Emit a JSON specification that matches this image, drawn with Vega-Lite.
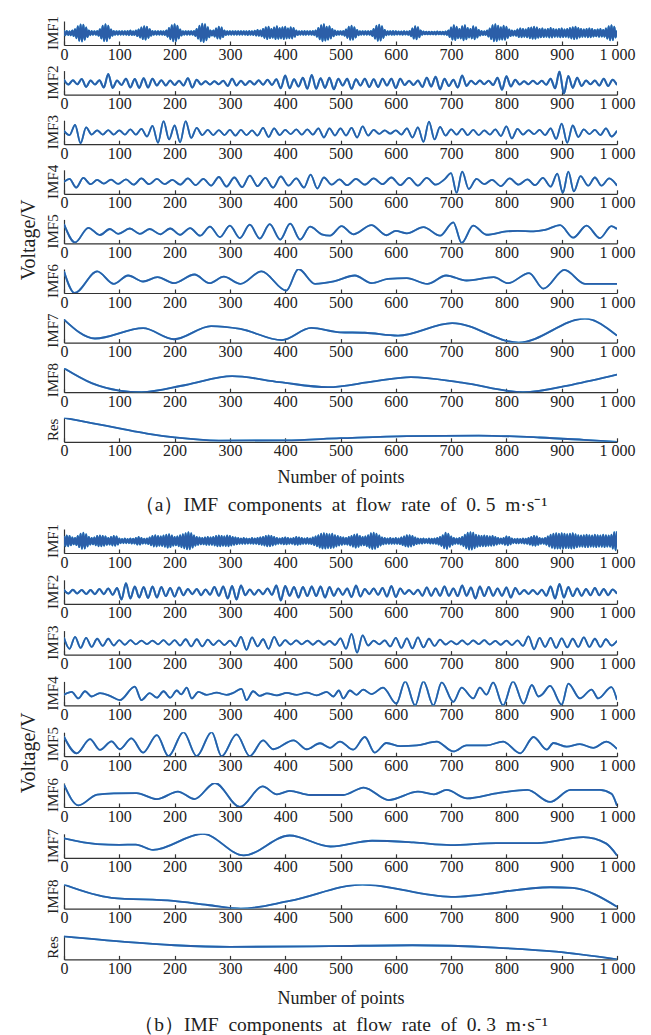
{
"$schema": "https://vega.github.io/schema/vega-lite/v6.json",
"background": "white",
"padding": {"left": 18, "top": 15, "right": 4, "bottom": 4},
"config": {"view": {"stroke": null}, "font": "Liberation Serif"},
"spacing": 8,
"datasets": {
"a": [
{"c":1,"x":0,"y":1.0},{"c":1,"x":2.5,"y":-0.9},{"c":1,"x":5,"y":0.8},{"c":1,"x":7.5,"y":-0.8},{"c":1,"x":10,"y":0.7},{"c":1,"x":12.5,"y":-0.9},{"c":1,"x":15,"y":1.0},{"c":1,"x":17.5,"y":-1.2},{"c":1,"x":20,"y":1.5},{"c":1,"x":22.5,"y":-2.1},
{"c":1,"x":25,"y":2.8},{"c":1,"x":27.5,"y":-3.2},{"c":1,"x":30,"y":3.5},{"c":1,"x":32.5,"y":-3.5},{"c":1,"x":35,"y":3.4},{"c":1,"x":37.5,"y":-2.8},{"c":1,"x":40,"y":2.2},{"c":1,"x":42.5,"y":-1.6},{"c":1,"x":45,"y":1.0},{"c":1,"x":47.5,"y":-0.9},
{"c":1,"x":50,"y":0.8},{"c":1,"x":52.5,"y":-0.7},{"c":1,"x":55,"y":0.7},{"c":1,"x":57.5,"y":-0.7},{"c":1,"x":60,"y":0.8},{"c":1,"x":62.5,"y":-1.1},{"c":1,"x":65,"y":1.5},{"c":1,"x":67.5,"y":-2.2},{"c":1,"x":70,"y":3.0},{"c":1,"x":72.5,"y":-3.3},
{"c":1,"x":75,"y":3.6},{"c":1,"x":77.5,"y":-3.3},{"c":1,"x":80,"y":3.0},{"c":1,"x":82.5,"y":-2.2},{"c":1,"x":85,"y":1.4},{"c":1,"x":87.5,"y":-1.1},{"c":1,"x":90,"y":0.8},{"c":1,"x":92.5,"y":-0.7},{"c":1,"x":95,"y":0.7},{"c":1,"x":97.5,"y":-0.7},
{"c":1,"x":100,"y":0.7},{"c":1,"x":102.5,"y":-0.7},{"c":1,"x":105,"y":0.7},{"c":1,"x":107.5,"y":-0.7},{"c":1,"x":110,"y":0.7},{"c":1,"x":112.5,"y":-0.7},{"c":1,"x":115,"y":0.8},{"c":1,"x":117.5,"y":-0.9},{"c":1,"x":120,"y":1.0},{"c":1,"x":122.5,"y":-0.8},
{"c":1,"x":125,"y":0.7},{"c":1,"x":127.5,"y":-0.8},{"c":1,"x":130,"y":1.0},{"c":1,"x":132.5,"y":-1.2},{"c":1,"x":135,"y":1.4},{"c":1,"x":137.5,"y":-1.8},{"c":1,"x":140,"y":2.2},{"c":1,"x":142.5,"y":-2.5},{"c":1,"x":145,"y":2.8},{"c":1,"x":147.5,"y":-2.7},
{"c":1,"x":150,"y":2.6},{"c":1,"x":152.5,"y":-2.0},{"c":1,"x":155,"y":1.5},{"c":1,"x":157.5,"y":-1.1},{"c":1,"x":160,"y":0.8},{"c":1,"x":162.5,"y":-0.7},{"c":1,"x":165,"y":0.7},{"c":1,"x":167.5,"y":-0.7},{"c":1,"x":170,"y":0.7},{"c":1,"x":172.5,"y":-0.7},
{"c":1,"x":175,"y":0.7},{"c":1,"x":177.5,"y":-0.7},{"c":1,"x":180,"y":0.7},{"c":1,"x":182.5,"y":-0.8},{"c":1,"x":185,"y":1.0},{"c":1,"x":187.5,"y":-1.5},{"c":1,"x":190,"y":2.0},{"c":1,"x":192.5,"y":-2.6},{"c":1,"x":195,"y":3.2},{"c":1,"x":197.5,"y":-3.4},
{"c":1,"x":200,"y":3.6},{"c":1,"x":202.5,"y":-3.3},{"c":1,"x":205,"y":3.0},{"c":1,"x":207.5,"y":-2.2},{"c":1,"x":210,"y":1.4},{"c":1,"x":212.5,"y":-1.0},{"c":1,"x":215,"y":0.7},{"c":1,"x":217.5,"y":-0.7},{"c":1,"x":220,"y":0.7},{"c":1,"x":222.5,"y":-0.7},
{"c":1,"x":225,"y":0.7},{"c":1,"x":227.5,"y":-0.7},{"c":1,"x":230,"y":0.7},{"c":1,"x":232.5,"y":-0.7},{"c":1,"x":235,"y":0.8},{"c":1,"x":237.5,"y":-1.2},{"c":1,"x":240,"y":1.6},{"c":1,"x":242.5,"y":-2.3},{"c":1,"x":245,"y":3.0},{"c":1,"x":247.5,"y":-3.4},
{"c":1,"x":250,"y":3.8},{"c":1,"x":252.5,"y":-3.7},{"c":1,"x":255,"y":3.6},{"c":1,"x":257.5,"y":-3.0},{"c":1,"x":260,"y":2.4},{"c":1,"x":262.5,"y":-1.7},{"c":1,"x":265,"y":1.0},{"c":1,"x":267.5,"y":-1.0},{"c":1,"x":270,"y":1.0},{"c":1,"x":272.5,"y":-1.4},
{"c":1,"x":275,"y":1.8},{"c":1,"x":277.5,"y":-2.2},{"c":1,"x":280,"y":2.6},{"c":1,"x":282.5,"y":-2.4},{"c":1,"x":285,"y":2.2},{"c":1,"x":287.5,"y":-1.6},{"c":1,"x":290,"y":1.0},{"c":1,"x":292.5,"y":-0.8},{"c":1,"x":295,"y":0.7},{"c":1,"x":297.5,"y":-0.7},
{"c":1,"x":300,"y":0.7},{"c":1,"x":302.5,"y":-0.7},{"c":1,"x":305,"y":0.7},{"c":1,"x":307.5,"y":-0.7},{"c":1,"x":310,"y":0.7},{"c":1,"x":312.5,"y":-0.7},{"c":1,"x":315,"y":0.7},{"c":1,"x":317.5,"y":-0.7},{"c":1,"x":320,"y":0.7},{"c":1,"x":322.5,"y":-0.7},
{"c":1,"x":325,"y":0.7},{"c":1,"x":327.5,"y":-0.7},{"c":1,"x":330,"y":0.7},{"c":1,"x":332.5,"y":-0.8},{"c":1,"x":335,"y":0.8},{"c":1,"x":337.5,"y":-0.7},{"c":1,"x":340,"y":0.7},{"c":1,"x":342.5,"y":-0.8},{"c":1,"x":345,"y":0.9},{"c":1,"x":347.5,"y":-1.0},
{"c":1,"x":350,"y":1.2},{"c":1,"x":352.5,"y":-1.1},{"c":1,"x":355,"y":1.0},{"c":1,"x":357.5,"y":-1.3},{"c":1,"x":360,"y":1.6},{"c":1,"x":362.5,"y":-2.0},{"c":1,"x":365,"y":2.4},{"c":1,"x":367.5,"y":-2.5},{"c":1,"x":370,"y":2.6},{"c":1,"x":372.5,"y":-2.1},
{"c":1,"x":375,"y":1.6},{"c":1,"x":377.5,"y":-1.9},{"c":1,"x":380,"y":2.2},{"c":1,"x":382.5,"y":-2.5},{"c":1,"x":385,"y":2.8},{"c":1,"x":387.5,"y":-2.4},{"c":1,"x":390,"y":2.0},{"c":1,"x":392.5,"y":-2.2},{"c":1,"x":395,"y":2.4},{"c":1,"x":397.5,"y":-2.5},
{"c":1,"x":400,"y":2.6},{"c":1,"x":402.5,"y":-2.2},{"c":1,"x":405,"y":1.8},{"c":1,"x":407.5,"y":-2.1},{"c":1,"x":410,"y":2.4},{"c":1,"x":412.5,"y":-2.2},{"c":1,"x":415,"y":2.0},{"c":1,"x":417.5,"y":-1.5},{"c":1,"x":420,"y":1.0},{"c":1,"x":422.5,"y":-0.8},
{"c":1,"x":425,"y":0.7},{"c":1,"x":427.5,"y":-0.7},{"c":1,"x":430,"y":0.7},{"c":1,"x":432.5,"y":-0.7},{"c":1,"x":435,"y":0.8},{"c":1,"x":437.5,"y":-0.7},{"c":1,"x":440,"y":0.7},{"c":1,"x":442.5,"y":-0.7},{"c":1,"x":445,"y":0.7},{"c":1,"x":447.5,"y":-0.7},
{"c":1,"x":450,"y":0.8},{"c":1,"x":452.5,"y":-0.9},{"c":1,"x":455,"y":1.0},{"c":1,"x":457.5,"y":-1.5},{"c":1,"x":460,"y":2.0},{"c":1,"x":462.5,"y":-2.6},{"c":1,"x":465,"y":3.2},{"c":1,"x":467.5,"y":-3.4},{"c":1,"x":470,"y":3.6},{"c":1,"x":472.5,"y":-3.1},
{"c":1,"x":475,"y":2.6},{"c":1,"x":477.5,"y":-2.7},{"c":1,"x":480,"y":2.8},{"c":1,"x":482.5,"y":-2.2},{"c":1,"x":485,"y":1.6},{"c":1,"x":487.5,"y":-1.3},{"c":1,"x":490,"y":1.0},{"c":1,"x":492.5,"y":-0.8},{"c":1,"x":495,"y":0.7},{"c":1,"x":497.5,"y":-0.7},
{"c":1,"x":500,"y":0.7},{"c":1,"x":502.5,"y":-0.7},{"c":1,"x":505,"y":0.8},{"c":1,"x":507.5,"y":-1.1},{"c":1,"x":510,"y":1.4},{"c":1,"x":512.5,"y":-2.0},{"c":1,"x":515,"y":2.6},{"c":1,"x":517.5,"y":-2.8},{"c":1,"x":520,"y":3.0},{"c":1,"x":522.5,"y":-2.7},
{"c":1,"x":525,"y":2.4},{"c":1,"x":527.5,"y":-1.8},{"c":1,"x":530,"y":1.2},{"c":1,"x":532.5,"y":-0.9},{"c":1,"x":535,"y":0.7},{"c":1,"x":537.5,"y":-0.7},{"c":1,"x":540,"y":0.7},{"c":1,"x":542.5,"y":-0.7},{"c":1,"x":545,"y":0.7},{"c":1,"x":547.5,"y":-0.7},
{"c":1,"x":550,"y":0.7},{"c":1,"x":552.5,"y":-0.7},{"c":1,"x":555,"y":0.8},{"c":1,"x":557.5,"y":-1.2},{"c":1,"x":560,"y":1.6},{"c":1,"x":562.5,"y":-2.3},{"c":1,"x":565,"y":3.0},{"c":1,"x":567.5,"y":-3.2},{"c":1,"x":570,"y":3.4},{"c":1,"x":572.5,"y":-3.1},
{"c":1,"x":575,"y":2.8},{"c":1,"x":577.5,"y":-2.0},{"c":1,"x":580,"y":1.2},{"c":1,"x":582.5,"y":-0.9},{"c":1,"x":585,"y":0.7},{"c":1,"x":587.5,"y":-0.7},{"c":1,"x":590,"y":0.7},{"c":1,"x":592.5,"y":-0.7},{"c":1,"x":595,"y":0.8},{"c":1,"x":597.5,"y":-0.7},
{"c":1,"x":600,"y":0.7},{"c":1,"x":602.5,"y":-0.6},{"c":1,"x":605,"y":0.6},{"c":1,"x":607.5,"y":-0.6},{"c":1,"x":610,"y":0.6},{"c":1,"x":612.5,"y":-0.7},{"c":1,"x":615,"y":0.7},{"c":1,"x":617.5,"y":-0.6},{"c":1,"x":620,"y":0.6},{"c":1,"x":622.5,"y":-0.7},
{"c":1,"x":625,"y":0.8},{"c":1,"x":627.5,"y":-1.3},{"c":1,"x":630,"y":1.8},{"c":1,"x":632.5,"y":-2.3},{"c":1,"x":635,"y":2.8},{"c":1,"x":637.5,"y":-2.6},{"c":1,"x":640,"y":2.4},{"c":1,"x":642.5,"y":-1.7},{"c":1,"x":645,"y":1.0},{"c":1,"x":647.5,"y":-0.7},
{"c":1,"x":650,"y":0.6},{"c":1,"x":652.5,"y":-0.5},{"c":1,"x":655,"y":0.5},{"c":1,"x":657.5,"y":-0.5},{"c":1,"x":660,"y":0.5},{"c":1,"x":662.5,"y":-0.5},{"c":1,"x":665,"y":0.5},{"c":1,"x":667.5,"y":-0.5},{"c":1,"x":670,"y":0.5},{"c":1,"x":672.5,"y":-0.6},
{"c":1,"x":675,"y":0.6},{"c":1,"x":677.5,"y":-0.5},{"c":1,"x":680,"y":0.5},{"c":1,"x":682.5,"y":-0.5},{"c":1,"x":685,"y":0.5},{"c":1,"x":687.5,"y":-0.6},{"c":1,"x":690,"y":0.6},{"c":1,"x":692.5,"y":-0.8},{"c":1,"x":695,"y":1.0},{"c":1,"x":697.5,"y":-1.6},
{"c":1,"x":700,"y":2.2},{"c":1,"x":702.5,"y":-2.7},{"c":1,"x":705,"y":3.2},{"c":1,"x":707.5,"y":-2.9},{"c":1,"x":710,"y":2.6},{"c":1,"x":712.5,"y":-2.1},{"c":1,"x":715,"y":1.6},{"c":1,"x":717.5,"y":-2.2},{"c":1,"x":720,"y":2.8},{"c":1,"x":722.5,"y":-3.0},
{"c":1,"x":725,"y":3.2},{"c":1,"x":727.5,"y":-2.6},{"c":1,"x":730,"y":2.0},{"c":1,"x":732.5,"y":-1.8},{"c":1,"x":735,"y":1.6},{"c":1,"x":737.5,"y":-2.2},{"c":1,"x":740,"y":2.8},{"c":1,"x":742.5,"y":-2.6},{"c":1,"x":745,"y":2.4},{"c":1,"x":747.5,"y":-1.8},
{"c":1,"x":750,"y":1.2},{"c":1,"x":752.5,"y":-1.0},{"c":1,"x":755,"y":0.8},{"c":1,"x":757.5,"y":-0.8},{"c":1,"x":760,"y":0.7},{"c":1,"x":762.5,"y":-0.8},{"c":1,"x":765,"y":1.0},{"c":1,"x":767.5,"y":-1.4},{"c":1,"x":770,"y":1.8},{"c":1,"x":772.5,"y":-2.5},
{"c":1,"x":775,"y":3.2},{"c":1,"x":777.5,"y":-3.4},{"c":1,"x":780,"y":3.6},{"c":1,"x":782.5,"y":-3.3},{"c":1,"x":785,"y":3.0},{"c":1,"x":787.5,"y":-2.7},{"c":1,"x":790,"y":2.4},{"c":1,"x":792.5,"y":-2.7},{"c":1,"x":795,"y":3.0},{"c":1,"x":797.5,"y":-2.8},
{"c":1,"x":800,"y":2.6},{"c":1,"x":802.5,"y":-2.0},{"c":1,"x":805,"y":1.4},{"c":1,"x":807.5,"y":-1.2},{"c":1,"x":810,"y":1.0},{"c":1,"x":812.5,"y":-1.0},{"c":1,"x":815,"y":0.9},{"c":1,"x":817.5,"y":-1.1},{"c":1,"x":820,"y":1.4},{"c":1,"x":822.5,"y":-1.6},
{"c":1,"x":825,"y":1.8},{"c":1,"x":827.5,"y":-1.7},{"c":1,"x":830,"y":1.6},{"c":1,"x":832.5,"y":-1.5},{"c":1,"x":835,"y":1.4},{"c":1,"x":837.5,"y":-1.7},{"c":1,"x":840,"y":2.0},{"c":1,"x":842.5,"y":-2.1},{"c":1,"x":845,"y":2.2},{"c":1,"x":847.5,"y":-2.4},
{"c":1,"x":850,"y":2.6},{"c":1,"x":852.5,"y":-2.4},{"c":1,"x":855,"y":2.2},{"c":1,"x":857.5,"y":-1.9},{"c":1,"x":860,"y":1.6},{"c":1,"x":862.5,"y":-1.7},{"c":1,"x":865,"y":1.8},{"c":1,"x":867.5,"y":-1.6},{"c":1,"x":870,"y":1.4},{"c":1,"x":872.5,"y":-1.5},
{"c":1,"x":875,"y":1.6},{"c":1,"x":877.5,"y":-1.8},{"c":1,"x":880,"y":2.0},{"c":1,"x":882.5,"y":-1.8},{"c":1,"x":885,"y":1.6},{"c":1,"x":887.5,"y":-1.5},{"c":1,"x":890,"y":1.4},{"c":1,"x":892.5,"y":-1.5},{"c":1,"x":895,"y":1.6},{"c":1,"x":897.5,"y":-1.7},
{"c":1,"x":900,"y":1.8},{"c":1,"x":902.5,"y":-1.6},{"c":1,"x":905,"y":1.4},{"c":1,"x":907.5,"y":-1.5},{"c":1,"x":910,"y":1.6},{"c":1,"x":912.5,"y":-1.8},{"c":1,"x":915,"y":2.0},{"c":1,"x":917.5,"y":-2.2},{"c":1,"x":920,"y":2.4},{"c":1,"x":922.5,"y":-2.5},
{"c":1,"x":925,"y":2.6},{"c":1,"x":927.5,"y":-2.3},{"c":1,"x":930,"y":2.0},{"c":1,"x":932.5,"y":-1.8},{"c":1,"x":935,"y":1.6},{"c":1,"x":937.5,"y":-1.5},{"c":1,"x":940,"y":1.4},{"c":1,"x":942.5,"y":-1.5},{"c":1,"x":945,"y":1.6},{"c":1,"x":947.5,"y":-1.7},
{"c":1,"x":950,"y":1.8},{"c":1,"x":952.5,"y":-1.7},{"c":1,"x":955,"y":1.6},{"c":1,"x":957.5,"y":-1.4},{"c":1,"x":960,"y":1.2},{"c":1,"x":962.5,"y":-1.3},{"c":1,"x":965,"y":1.4},{"c":1,"x":967.5,"y":-1.5},{"c":1,"x":970,"y":1.6},{"c":1,"x":972.5,"y":-1.4},
{"c":1,"x":975,"y":1.2},{"c":1,"x":977.5,"y":-1.5},{"c":1,"x":980,"y":1.8},{"c":1,"x":982.5,"y":-2.3},{"c":1,"x":985,"y":2.8},{"c":1,"x":987.5,"y":-3.0},{"c":1,"x":990,"y":3.2},{"c":1,"x":992.5,"y":-2.9},{"c":1,"x":995,"y":2.6},{"c":1,"x":997.5,"y":-1.8},
{"c":1,"x":1000,"y":1.0},
{"c":2,"x":0,"y":1.2},{"c":2,"x":8,"y":-0.8},{"c":2,"x":16,"y":1.0},{"c":2,"x":24,"y":-0.7},{"c":2,"x":32,"y":1.5},{"c":2,"x":40,"y":-1.8},{"c":2,"x":48,"y":0.9},{"c":2,"x":56,"y":-0.8},{"c":2,"x":64,"y":1.0},{"c":2,"x":72,"y":-2.0},
{"c":2,"x":80,"y":3.6},{"c":2,"x":88,"y":-2.2},{"c":2,"x":96,"y":0.9},{"c":2,"x":104,"y":-1.0},{"c":2,"x":112,"y":1.6},{"c":2,"x":120,"y":-2.0},{"c":2,"x":128,"y":1.5},{"c":2,"x":136,"y":-2.2},{"c":2,"x":144,"y":1.8},{"c":2,"x":152,"y":-2.0},
{"c":2,"x":160,"y":1.6},{"c":2,"x":168,"y":-1.2},{"c":2,"x":176,"y":1.0},{"c":2,"x":184,"y":-1.2},{"c":2,"x":192,"y":0.9},{"c":2,"x":200,"y":-1.0},{"c":2,"x":208,"y":0.8},{"c":2,"x":216,"y":-1.2},{"c":2,"x":224,"y":1.8},{"c":2,"x":232,"y":-2.0},
{"c":2,"x":240,"y":1.2},{"c":2,"x":248,"y":-0.8},{"c":2,"x":256,"y":0.6},{"c":2,"x":264,"y":-0.8},{"c":2,"x":272,"y":0.6},{"c":2,"x":280,"y":-0.7},{"c":2,"x":288,"y":0.8},{"c":2,"x":296,"y":-1.4},{"c":2,"x":304,"y":1.6},{"c":2,"x":312,"y":-1.2},
{"c":2,"x":320,"y":0.8},{"c":2,"x":328,"y":-1.0},{"c":2,"x":336,"y":0.7},{"c":2,"x":344,"y":-0.8},{"c":2,"x":352,"y":1.0},{"c":2,"x":360,"y":-0.9},{"c":2,"x":368,"y":1.2},{"c":2,"x":376,"y":-1.0},{"c":2,"x":384,"y":1.4},{"c":2,"x":392,"y":-2.4},
{"c":2,"x":400,"y":3.0},{"c":2,"x":408,"y":-2.4},{"c":2,"x":416,"y":1.4},{"c":2,"x":424,"y":-1.6},{"c":2,"x":432,"y":2.0},{"c":2,"x":440,"y":-2.6},{"c":2,"x":448,"y":3.2},{"c":2,"x":456,"y":-2.6},{"c":2,"x":464,"y":1.8},{"c":2,"x":472,"y":-2.2},
{"c":2,"x":480,"y":2.0},{"c":2,"x":488,"y":-2.8},{"c":2,"x":496,"y":1.6},{"c":2,"x":504,"y":-1.2},{"c":2,"x":512,"y":1.6},{"c":2,"x":520,"y":-2.6},{"c":2,"x":528,"y":1.4},{"c":2,"x":536,"y":-1.2},{"c":2,"x":544,"y":1.6},{"c":2,"x":552,"y":-1.8},
{"c":2,"x":560,"y":1.4},{"c":2,"x":568,"y":-1.8},{"c":2,"x":576,"y":1.6},{"c":2,"x":584,"y":-1.2},{"c":2,"x":592,"y":1.6},{"c":2,"x":600,"y":-2.2},{"c":2,"x":608,"y":1.6},{"c":2,"x":616,"y":-1.0},{"c":2,"x":624,"y":0.8},{"c":2,"x":632,"y":-1.0},
{"c":2,"x":640,"y":0.9},{"c":2,"x":648,"y":-1.8},{"c":2,"x":656,"y":2.0},{"c":2,"x":664,"y":-1.6},{"c":2,"x":672,"y":2.4},{"c":2,"x":680,"y":-2.8},{"c":2,"x":688,"y":1.6},{"c":2,"x":696,"y":-1.4},{"c":2,"x":704,"y":1.2},{"c":2,"x":712,"y":-2.0},
{"c":2,"x":720,"y":3.0},{"c":2,"x":728,"y":-1.4},{"c":2,"x":736,"y":0.8},{"c":2,"x":744,"y":-0.7},{"c":2,"x":752,"y":0.9},{"c":2,"x":760,"y":-0.7},{"c":2,"x":768,"y":0.8},{"c":2,"x":776,"y":-1.0},{"c":2,"x":784,"y":2.0},{"c":2,"x":792,"y":-3.0},
{"c":2,"x":800,"y":2.6},{"c":2,"x":808,"y":-1.6},{"c":2,"x":816,"y":1.2},{"c":2,"x":824,"y":-0.8},{"c":2,"x":832,"y":0.6},{"c":2,"x":840,"y":-0.7},{"c":2,"x":848,"y":0.8},{"c":2,"x":856,"y":-0.6},{"c":2,"x":864,"y":0.8},{"c":2,"x":872,"y":-0.9},
{"c":2,"x":880,"y":1.6},{"c":2,"x":888,"y":-2.4},{"c":2,"x":896,"y":4.6},{"c":2,"x":904,"y":-4.6},{"c":2,"x":912,"y":2.8},{"c":2,"x":920,"y":-2.2},{"c":2,"x":928,"y":2.0},{"c":2,"x":936,"y":-1.4},{"c":2,"x":944,"y":0.9},{"c":2,"x":952,"y":-0.7},
{"c":2,"x":960,"y":0.9},{"c":2,"x":968,"y":-1.2},{"c":2,"x":976,"y":1.6},{"c":2,"x":984,"y":-1.4},{"c":2,"x":992,"y":1.2},{"c":2,"x":1000,"y":-1.0},
{"c":3,"x":0,"y":0.6},{"c":3,"x":10,"y":-1.2},{"c":3,"x":20,"y":3.0},{"c":3,"x":30,"y":-4.6},{"c":3,"x":40,"y":2.0},{"c":3,"x":50,"y":-1.0},{"c":3,"x":60,"y":0.8},{"c":3,"x":70,"y":-1.0},{"c":3,"x":80,"y":0.9},{"c":3,"x":90,"y":-1.0},
{"c":3,"x":100,"y":0.8},{"c":3,"x":110,"y":-1.0},{"c":3,"x":120,"y":1.2},{"c":3,"x":130,"y":-1.0},{"c":3,"x":140,"y":1.4},{"c":3,"x":150,"y":-1.8},{"c":3,"x":160,"y":2.6},{"c":3,"x":170,"y":-4.4},{"c":3,"x":180,"y":4.6},{"c":3,"x":190,"y":-3.0},
{"c":3,"x":200,"y":2.8},{"c":3,"x":210,"y":-4.2},{"c":3,"x":220,"y":4.6},{"c":3,"x":230,"y":-2.4},{"c":3,"x":240,"y":1.8},{"c":3,"x":250,"y":-1.2},{"c":3,"x":260,"y":1.0},{"c":3,"x":270,"y":-1.2},{"c":3,"x":280,"y":0.9},{"c":3,"x":290,"y":-1.2},
{"c":3,"x":300,"y":1.0},{"c":3,"x":310,"y":-1.4},{"c":3,"x":320,"y":1.0},{"c":3,"x":330,"y":-1.2},{"c":3,"x":340,"y":0.8},{"c":3,"x":350,"y":-1.4},{"c":3,"x":360,"y":1.8},{"c":3,"x":370,"y":-2.0},{"c":3,"x":380,"y":1.6},{"c":3,"x":390,"y":-1.2},
{"c":3,"x":400,"y":1.0},{"c":3,"x":410,"y":-0.8},{"c":3,"x":420,"y":1.2},{"c":3,"x":430,"y":-1.0},{"c":3,"x":440,"y":1.2},{"c":3,"x":450,"y":-1.0},{"c":3,"x":460,"y":1.6},{"c":3,"x":470,"y":-2.2},{"c":3,"x":480,"y":1.6},{"c":3,"x":490,"y":-1.4},
{"c":3,"x":500,"y":1.6},{"c":3,"x":510,"y":-1.4},{"c":3,"x":520,"y":1.8},{"c":3,"x":530,"y":-2.2},{"c":3,"x":540,"y":2.4},{"c":3,"x":550,"y":-1.4},{"c":3,"x":560,"y":1.0},{"c":3,"x":570,"y":-0.7},{"c":3,"x":580,"y":0.8},{"c":3,"x":590,"y":-0.6},
{"c":3,"x":600,"y":0.8},{"c":3,"x":610,"y":-1.0},{"c":3,"x":620,"y":1.6},{"c":3,"x":630,"y":-2.2},{"c":3,"x":640,"y":2.0},{"c":3,"x":650,"y":-4.0},{"c":3,"x":660,"y":4.4},{"c":3,"x":670,"y":-3.0},{"c":3,"x":680,"y":2.2},{"c":3,"x":690,"y":-1.4},
{"c":3,"x":700,"y":1.2},{"c":3,"x":710,"y":-1.0},{"c":3,"x":720,"y":1.4},{"c":3,"x":730,"y":-1.2},{"c":3,"x":740,"y":1.0},{"c":3,"x":750,"y":-1.2},{"c":3,"x":760,"y":0.8},{"c":3,"x":770,"y":-1.0},{"c":3,"x":780,"y":1.2},{"c":3,"x":790,"y":-1.6},
{"c":3,"x":800,"y":2.4},{"c":3,"x":810,"y":-2.6},{"c":3,"x":820,"y":1.4},{"c":3,"x":830,"y":-1.0},{"c":3,"x":840,"y":0.9},{"c":3,"x":850,"y":-0.8},{"c":3,"x":860,"y":1.0},{"c":3,"x":870,"y":-1.2},{"c":3,"x":880,"y":1.6},{"c":3,"x":890,"y":-2.8},
{"c":3,"x":900,"y":3.6},{"c":3,"x":910,"y":-4.4},{"c":3,"x":920,"y":2.8},{"c":3,"x":930,"y":-2.0},{"c":3,"x":940,"y":1.2},{"c":3,"x":950,"y":-0.8},{"c":3,"x":960,"y":1.0},{"c":3,"x":970,"y":-1.2},{"c":3,"x":980,"y":1.6},{"c":3,"x":990,"y":-1.8},
{"c":3,"x":1000,"y":0.6},
{"c":4,"x":0,"y":0.0},{"c":4,"x":10,"y":1.2},{"c":4,"x":22,"y":-2.4},{"c":4,"x":35,"y":1.6},{"c":4,"x":48,"y":-1.0},{"c":4,"x":60,"y":0.8},{"c":4,"x":72,"y":-0.8},{"c":4,"x":85,"y":0.9},{"c":4,"x":98,"y":-0.9},{"c":4,"x":112,"y":1.0},
{"c":4,"x":126,"y":-1.2},{"c":4,"x":140,"y":1.4},{"c":4,"x":154,"y":-1.0},{"c":4,"x":168,"y":1.2},{"c":4,"x":182,"y":-1.0},{"c":4,"x":196,"y":0.8},{"c":4,"x":210,"y":-1.2},{"c":4,"x":224,"y":1.4},{"c":4,"x":238,"y":-1.4},{"c":4,"x":252,"y":1.2},
{"c":4,"x":266,"y":-1.6},{"c":4,"x":280,"y":2.0},{"c":4,"x":294,"y":-2.0},{"c":4,"x":308,"y":1.8},{"c":4,"x":322,"y":-2.2},{"c":4,"x":336,"y":2.6},{"c":4,"x":350,"y":-1.8},{"c":4,"x":364,"y":1.6},{"c":4,"x":378,"y":-2.4},{"c":4,"x":392,"y":2.2},
{"c":4,"x":406,"y":-1.6},{"c":4,"x":420,"y":1.4},{"c":4,"x":434,"y":-2.4},{"c":4,"x":446,"y":3.0},{"c":4,"x":458,"y":-2.8},{"c":4,"x":470,"y":1.8},{"c":4,"x":484,"y":-1.2},{"c":4,"x":498,"y":1.0},{"c":4,"x":512,"y":-1.4},{"c":4,"x":528,"y":1.2},
{"c":4,"x":544,"y":-1.2},{"c":4,"x":560,"y":1.4},{"c":4,"x":576,"y":-1.0},{"c":4,"x":592,"y":1.8},{"c":4,"x":608,"y":-1.4},{"c":4,"x":624,"y":1.6},{"c":4,"x":640,"y":-1.6},{"c":4,"x":656,"y":1.6},{"c":4,"x":672,"y":-1.2},{"c":4,"x":688,"y":1.0},
{"c":4,"x":700,"y":3.6},{"c":4,"x":710,"y":-4.6},{"c":4,"x":720,"y":4.2},{"c":4,"x":732,"y":-3.0},{"c":4,"x":746,"y":1.2},{"c":4,"x":760,"y":-1.0},{"c":4,"x":774,"y":0.8},{"c":4,"x":790,"y":-1.8},{"c":4,"x":806,"y":1.4},{"c":4,"x":822,"y":-1.2},
{"c":4,"x":838,"y":1.0},{"c":4,"x":852,"y":-1.4},{"c":4,"x":866,"y":1.6},{"c":4,"x":880,"y":-2.0},{"c":4,"x":892,"y":3.4},{"c":4,"x":902,"y":-4.6},{"c":4,"x":912,"y":4.2},{"c":4,"x":922,"y":-4.0},{"c":4,"x":934,"y":2.4},{"c":4,"x":948,"y":-1.6},
{"c":4,"x":960,"y":1.8},{"c":4,"x":972,"y":-1.6},{"c":4,"x":986,"y":1.4},{"c":4,"x":1000,"y":-1.6},
{"c":5,"x":0,"y":3.0},{"c":5,"x":20,"y":-4.6},{"c":5,"x":44,"y":1.5},{"c":5,"x":65,"y":-1.5},{"c":5,"x":83,"y":1.0},{"c":5,"x":98,"y":-1.0},{"c":5,"x":119,"y":1.2},{"c":5,"x":137,"y":-1.0},{"c":5,"x":155,"y":1.0},{"c":5,"x":174,"y":-1.2},
{"c":5,"x":192,"y":1.2},{"c":5,"x":210,"y":-1.4},{"c":5,"x":228,"y":1.4},{"c":5,"x":246,"y":-1.8},{"c":5,"x":264,"y":2.0},{"c":5,"x":282,"y":-2.4},{"c":5,"x":300,"y":2.4},{"c":5,"x":318,"y":-2.8},{"c":5,"x":336,"y":2.8},{"c":5,"x":354,"y":-3.0},
{"c":5,"x":372,"y":3.0},{"c":5,"x":391,"y":-3.4},{"c":5,"x":409,"y":3.2},{"c":5,"x":427,"y":-3.4},{"c":5,"x":445,"y":2.0},{"c":5,"x":466,"y":-1.2},{"c":5,"x":481,"y":-1.8},{"c":5,"x":502,"y":2.2},{"c":5,"x":523,"y":-1.2},{"c":5,"x":556,"y":2.6},
{"c":5,"x":583,"y":-1.6},{"c":5,"x":600,"y":0.2},{"c":5,"x":620,"y":-0.8},{"c":5,"x":650,"y":1.8},{"c":5,"x":680,"y":-1.8},{"c":5,"x":704,"y":3.8},{"c":5,"x":719,"y":-4.8},{"c":5,"x":740,"y":2.4},{"c":5,"x":764,"y":-1.4},{"c":5,"x":800,"y":0.0},
{"c":5,"x":820,"y":0.2},{"c":5,"x":849,"y":0.0},{"c":5,"x":870,"y":0.6},{"c":5,"x":897,"y":2.6},{"c":5,"x":921,"y":-2.6},{"c":5,"x":945,"y":2.4},{"c":5,"x":969,"y":-2.8},{"c":5,"x":990,"y":2.2},{"c":5,"x":1000,"y":1.0},
{"c":6,"x":0,"y":4.0},{"c":6,"x":19,"y":-5.0},{"c":6,"x":60,"y":4.0},{"c":6,"x":90,"y":-1.2},{"c":6,"x":116,"y":2.3},{"c":6,"x":143,"y":-0.2},{"c":6,"x":169,"y":1.6},{"c":6,"x":199,"y":-0.9},{"c":6,"x":236,"y":2.7},{"c":6,"x":263,"y":-0.9},
{"c":6,"x":289,"y":1.8},{"c":6,"x":319,"y":-1.2},{"c":6,"x":357,"y":4.0},{"c":6,"x":402,"y":-4.0},{"c":6,"x":424,"y":5.0},{"c":6,"x":454,"y":-1.2},{"c":6,"x":488,"y":-0.2},{"c":6,"x":526,"y":2.3},{"c":6,"x":556,"y":-0.9},{"c":6,"x":586,"y":0.9},
{"c":6,"x":620,"y":1.2},{"c":6,"x":657,"y":-1.2},{"c":6,"x":691,"y":2.3},{"c":6,"x":728,"y":0.2},{"c":6,"x":777,"y":1.6},{"c":6,"x":803,"y":-0.9},{"c":6,"x":841,"y":3.3},{"c":6,"x":867,"y":-3.2},{"c":6,"x":905,"y":4.6},{"c":6,"x":942,"y":-1.2},
{"c":6,"x":1000,"y":-1.2},
{"c":7,"x":0,"y":4.6},{"c":7,"x":56,"y":-3.3},{"c":7,"x":143,"y":1.0},{"c":7,"x":199,"y":-3.6},{"c":7,"x":266,"y":1.9},{"c":7,"x":319,"y":0.7},{"c":7,"x":394,"y":-4.0},{"c":7,"x":447,"y":1.1},{"c":7,"x":499,"y":-0.7},{"c":7,"x":544,"y":-0.9},
{"c":7,"x":604,"y":-2.1},{"c":7,"x":702,"y":3.1},{"c":7,"x":822,"y":-5.0},{"c":7,"x":942,"y":5.0},{"c":7,"x":1000,"y":-2.1},
{"c":8,"x":0,"y":5.0},{"c":8,"x":50,"y":-1.2},{"c":8,"x":100,"y":-4.3},{"c":8,"x":140,"y":-5.0},{"c":8,"x":220,"y":-2.0},{"c":8,"x":304,"y":1.7},{"c":8,"x":390,"y":-0.8},{"c":8,"x":477,"y":-2.9},{"c":8,"x":560,"y":-0.5},{"c":8,"x":627,"y":1.3},
{"c":8,"x":720,"y":-1.0},{"c":8,"x":830,"y":-5.0},{"c":8,"x":920,"y":-1.8},{"c":8,"x":1000,"y":2.3},
{"c":9,"x":0,"y":5.0},{"c":9,"x":50,"y":2.8},{"c":9,"x":100,"y":0.6},{"c":9,"x":150,"y":-1.6},{"c":9,"x":200,"y":-3.2},{"c":9,"x":280,"y":-4.5},{"c":9,"x":400,"y":-4.4},{"c":9,"x":500,"y":-3.5},{"c":9,"x":620,"y":-2.6},{"c":9,"x":750,"y":-2.4},
{"c":9,"x":860,"y":-3.2},{"c":9,"x":940,"y":-4.2},{"c":9,"x":1000,"y":-5.0}
],
"b": [
{"c":1,"x":0,"y":2.0},{"c":1,"x":2.5,"y":-2.1},{"c":1,"x":5,"y":2.2},{"c":1,"x":7.5,"y":-2.1},{"c":1,"x":10,"y":2.0},{"c":1,"x":12.5,"y":-1.7},{"c":1,"x":15,"y":1.4},{"c":1,"x":17.5,"y":-1.3},{"c":1,"x":20,"y":1.2},{"c":1,"x":22.5,"y":-1.6},
{"c":1,"x":25,"y":2.0},{"c":1,"x":27.5,"y":-2.5},{"c":1,"x":30,"y":3.0},{"c":1,"x":32.5,"y":-3.2},{"c":1,"x":35,"y":3.4},{"c":1,"x":37.5,"y":-3.1},{"c":1,"x":40,"y":2.8},{"c":1,"x":42.5,"y":-2.2},{"c":1,"x":45,"y":1.6},{"c":1,"x":47.5,"y":-1.4},
{"c":1,"x":50,"y":1.2},{"c":1,"x":52.5,"y":-1.3},{"c":1,"x":55,"y":1.4},{"c":1,"x":57.5,"y":-1.7},{"c":1,"x":60,"y":2.0},{"c":1,"x":62.5,"y":-2.1},{"c":1,"x":65,"y":2.2},{"c":1,"x":67.5,"y":-2.1},{"c":1,"x":70,"y":2.0},{"c":1,"x":72.5,"y":-1.9},
{"c":1,"x":75,"y":1.8},{"c":1,"x":77.5,"y":-1.5},{"c":1,"x":80,"y":1.2},{"c":1,"x":82.5,"y":-1.4},{"c":1,"x":85,"y":1.6},{"c":1,"x":87.5,"y":-1.8},{"c":1,"x":90,"y":2.0},{"c":1,"x":92.5,"y":-1.9},{"c":1,"x":95,"y":1.8},{"c":1,"x":97.5,"y":-1.4},
{"c":1,"x":100,"y":1.0},{"c":1,"x":102.5,"y":-0.9},{"c":1,"x":105,"y":0.8},{"c":1,"x":107.5,"y":-0.9},{"c":1,"x":110,"y":1.0},{"c":1,"x":112.5,"y":-0.9},{"c":1,"x":115,"y":0.8},{"c":1,"x":117.5,"y":-0.9},{"c":1,"x":120,"y":1.0},{"c":1,"x":122.5,"y":-1.0},
{"c":1,"x":125,"y":0.9},{"c":1,"x":127.5,"y":-1.0},{"c":1,"x":130,"y":1.2},{"c":1,"x":132.5,"y":-1.4},{"c":1,"x":135,"y":1.6},{"c":1,"x":137.5,"y":-1.4},{"c":1,"x":140,"y":1.2},{"c":1,"x":142.5,"y":-1.0},{"c":1,"x":145,"y":0.9},{"c":1,"x":147.5,"y":-1.0},
{"c":1,"x":150,"y":1.0},{"c":1,"x":152.5,"y":-1.2},{"c":1,"x":155,"y":1.4},{"c":1,"x":157.5,"y":-1.7},{"c":1,"x":160,"y":2.0},{"c":1,"x":162.5,"y":-2.2},{"c":1,"x":165,"y":2.4},{"c":1,"x":167.5,"y":-2.2},{"c":1,"x":170,"y":2.0},{"c":1,"x":172.5,"y":-1.9},
{"c":1,"x":175,"y":1.8},{"c":1,"x":177.5,"y":-2.0},{"c":1,"x":180,"y":2.2},{"c":1,"x":182.5,"y":-2.4},{"c":1,"x":185,"y":2.6},{"c":1,"x":187.5,"y":-2.7},{"c":1,"x":190,"y":2.8},{"c":1,"x":192.5,"y":-2.5},{"c":1,"x":195,"y":2.2},{"c":1,"x":197.5,"y":-1.9},
{"c":1,"x":200,"y":1.6},{"c":1,"x":202.5,"y":-1.7},{"c":1,"x":205,"y":1.8},{"c":1,"x":207.5,"y":-2.1},{"c":1,"x":210,"y":2.4},{"c":1,"x":212.5,"y":-2.6},{"c":1,"x":215,"y":2.8},{"c":1,"x":217.5,"y":-3.0},{"c":1,"x":220,"y":3.2},{"c":1,"x":222.5,"y":-3.4},
{"c":1,"x":225,"y":3.6},{"c":1,"x":227.5,"y":-3.4},{"c":1,"x":230,"y":3.2},{"c":1,"x":232.5,"y":-2.7},{"c":1,"x":235,"y":2.2},{"c":1,"x":237.5,"y":-1.9},{"c":1,"x":240,"y":1.6},{"c":1,"x":242.5,"y":-1.5},{"c":1,"x":245,"y":1.4},{"c":1,"x":247.5,"y":-1.3},
{"c":1,"x":250,"y":1.2},{"c":1,"x":252.5,"y":-1.3},{"c":1,"x":255,"y":1.4},{"c":1,"x":257.5,"y":-1.5},{"c":1,"x":260,"y":1.6},{"c":1,"x":262.5,"y":-1.5},{"c":1,"x":265,"y":1.4},{"c":1,"x":267.5,"y":-1.5},{"c":1,"x":270,"y":1.6},{"c":1,"x":272.5,"y":-1.8},
{"c":1,"x":275,"y":2.0},{"c":1,"x":277.5,"y":-2.1},{"c":1,"x":280,"y":2.2},{"c":1,"x":282.5,"y":-2.1},{"c":1,"x":285,"y":2.0},{"c":1,"x":287.5,"y":-1.9},{"c":1,"x":290,"y":1.8},{"c":1,"x":292.5,"y":-2.0},{"c":1,"x":295,"y":2.2},{"c":1,"x":297.5,"y":-2.1},
{"c":1,"x":300,"y":2.0},{"c":1,"x":302.5,"y":-1.8},{"c":1,"x":305,"y":1.6},{"c":1,"x":307.5,"y":-1.5},{"c":1,"x":310,"y":1.4},{"c":1,"x":312.5,"y":-1.3},{"c":1,"x":315,"y":1.2},{"c":1,"x":317.5,"y":-1.1},{"c":1,"x":320,"y":1.0},{"c":1,"x":322.5,"y":-1.1},
{"c":1,"x":325,"y":1.2},{"c":1,"x":327.5,"y":-1.1},{"c":1,"x":330,"y":1.0},{"c":1,"x":332.5,"y":-1.0},{"c":1,"x":335,"y":0.9},{"c":1,"x":337.5,"y":-1.0},{"c":1,"x":340,"y":1.2},{"c":1,"x":342.5,"y":-1.1},{"c":1,"x":345,"y":1.0},{"c":1,"x":347.5,"y":-1.1},
{"c":1,"x":350,"y":1.2},{"c":1,"x":352.5,"y":-1.3},{"c":1,"x":355,"y":1.4},{"c":1,"x":357.5,"y":-1.5},{"c":1,"x":360,"y":1.6},{"c":1,"x":362.5,"y":-1.8},{"c":1,"x":365,"y":2.0},{"c":1,"x":367.5,"y":-2.1},{"c":1,"x":370,"y":2.2},{"c":1,"x":372.5,"y":-2.1},
{"c":1,"x":375,"y":2.0},{"c":1,"x":377.5,"y":-1.8},{"c":1,"x":380,"y":1.6},{"c":1,"x":382.5,"y":-1.4},{"c":1,"x":385,"y":1.2},{"c":1,"x":387.5,"y":-1.1},{"c":1,"x":390,"y":1.0},{"c":1,"x":392.5,"y":-1.1},{"c":1,"x":395,"y":1.2},{"c":1,"x":397.5,"y":-1.3},
{"c":1,"x":400,"y":1.4},{"c":1,"x":402.5,"y":-1.3},{"c":1,"x":405,"y":1.2},{"c":1,"x":407.5,"y":-1.1},{"c":1,"x":410,"y":1.0},{"c":1,"x":412.5,"y":-1.1},{"c":1,"x":415,"y":1.2},{"c":1,"x":417.5,"y":-1.4},{"c":1,"x":420,"y":1.6},{"c":1,"x":422.5,"y":-1.5},
{"c":1,"x":425,"y":1.4},{"c":1,"x":427.5,"y":-1.3},{"c":1,"x":430,"y":1.2},{"c":1,"x":432.5,"y":-1.1},{"c":1,"x":435,"y":1.0},{"c":1,"x":437.5,"y":-1.1},{"c":1,"x":440,"y":1.2},{"c":1,"x":442.5,"y":-1.1},{"c":1,"x":445,"y":1.0},{"c":1,"x":447.5,"y":-1.2},
{"c":1,"x":450,"y":1.4},{"c":1,"x":452.5,"y":-1.6},{"c":1,"x":455,"y":1.8},{"c":1,"x":457.5,"y":-2.1},{"c":1,"x":460,"y":2.4},{"c":1,"x":462.5,"y":-2.7},{"c":1,"x":465,"y":3.0},{"c":1,"x":467.5,"y":-3.1},{"c":1,"x":470,"y":3.2},{"c":1,"x":472.5,"y":-3.1},
{"c":1,"x":475,"y":3.0},{"c":1,"x":477.5,"y":-2.9},{"c":1,"x":480,"y":2.8},{"c":1,"x":482.5,"y":-2.9},{"c":1,"x":485,"y":3.0},{"c":1,"x":487.5,"y":-2.7},{"c":1,"x":490,"y":2.4},{"c":1,"x":492.5,"y":-2.2},{"c":1,"x":495,"y":2.0},{"c":1,"x":497.5,"y":-1.8},
{"c":1,"x":500,"y":1.6},{"c":1,"x":502.5,"y":-1.5},{"c":1,"x":505,"y":1.4},{"c":1,"x":507.5,"y":-1.3},{"c":1,"x":510,"y":1.2},{"c":1,"x":512.5,"y":-1.4},{"c":1,"x":515,"y":1.6},{"c":1,"x":517.5,"y":-1.8},{"c":1,"x":520,"y":2.0},{"c":1,"x":522.5,"y":-2.3},
{"c":1,"x":525,"y":2.6},{"c":1,"x":527.5,"y":-2.7},{"c":1,"x":530,"y":2.8},{"c":1,"x":532.5,"y":-2.4},{"c":1,"x":535,"y":2.0},{"c":1,"x":537.5,"y":-1.8},{"c":1,"x":540,"y":1.6},{"c":1,"x":542.5,"y":-1.7},{"c":1,"x":545,"y":1.8},{"c":1,"x":547.5,"y":-2.1},
{"c":1,"x":550,"y":2.4},{"c":1,"x":552.5,"y":-2.8},{"c":1,"x":555,"y":3.2},{"c":1,"x":557.5,"y":-3.3},{"c":1,"x":560,"y":3.4},{"c":1,"x":562.5,"y":-3.2},{"c":1,"x":565,"y":3.0},{"c":1,"x":567.5,"y":-2.6},{"c":1,"x":570,"y":2.2},{"c":1,"x":572.5,"y":-1.8},
{"c":1,"x":575,"y":1.4},{"c":1,"x":577.5,"y":-1.3},{"c":1,"x":580,"y":1.2},{"c":1,"x":582.5,"y":-1.1},{"c":1,"x":585,"y":1.0},{"c":1,"x":587.5,"y":-1.1},{"c":1,"x":590,"y":1.2},{"c":1,"x":592.5,"y":-1.1},{"c":1,"x":595,"y":1.0},{"c":1,"x":597.5,"y":-1.1},
{"c":1,"x":600,"y":1.2},{"c":1,"x":602.5,"y":-1.1},{"c":1,"x":605,"y":1.0},{"c":1,"x":607.5,"y":-1.2},{"c":1,"x":610,"y":1.4},{"c":1,"x":612.5,"y":-1.6},{"c":1,"x":615,"y":1.8},{"c":1,"x":617.5,"y":-2.1},{"c":1,"x":620,"y":2.4},{"c":1,"x":622.5,"y":-2.4},
{"c":1,"x":625,"y":2.4},{"c":1,"x":627.5,"y":-2.2},{"c":1,"x":630,"y":2.0},{"c":1,"x":632.5,"y":-1.7},{"c":1,"x":635,"y":1.4},{"c":1,"x":637.5,"y":-1.2},{"c":1,"x":640,"y":1.0},{"c":1,"x":642.5,"y":-1.0},{"c":1,"x":645,"y":0.9},{"c":1,"x":647.5,"y":-1.0},
{"c":1,"x":650,"y":1.0},{"c":1,"x":652.5,"y":-0.9},{"c":1,"x":655,"y":0.8},{"c":1,"x":657.5,"y":-0.9},{"c":1,"x":660,"y":1.0},{"c":1,"x":662.5,"y":-1.0},{"c":1,"x":665,"y":0.9},{"c":1,"x":667.5,"y":-1.0},{"c":1,"x":670,"y":1.0},{"c":1,"x":672.5,"y":-1.1},
{"c":1,"x":675,"y":1.2},{"c":1,"x":677.5,"y":-1.4},{"c":1,"x":680,"y":1.6},{"c":1,"x":682.5,"y":-2.0},{"c":1,"x":685,"y":2.4},{"c":1,"x":687.5,"y":-2.9},{"c":1,"x":690,"y":3.4},{"c":1,"x":692.5,"y":-3.2},{"c":1,"x":695,"y":3.0},{"c":1,"x":697.5,"y":-2.4},
{"c":1,"x":700,"y":1.8},{"c":1,"x":702.5,"y":-1.5},{"c":1,"x":705,"y":1.2},{"c":1,"x":707.5,"y":-1.1},{"c":1,"x":710,"y":1.0},{"c":1,"x":712.5,"y":-1.1},{"c":1,"x":715,"y":1.2},{"c":1,"x":717.5,"y":-1.4},{"c":1,"x":720,"y":1.6},{"c":1,"x":722.5,"y":-2.1},
{"c":1,"x":725,"y":2.6},{"c":1,"x":727.5,"y":-3.0},{"c":1,"x":730,"y":3.4},{"c":1,"x":732.5,"y":-3.5},{"c":1,"x":735,"y":3.6},{"c":1,"x":737.5,"y":-3.5},{"c":1,"x":740,"y":3.4},{"c":1,"x":742.5,"y":-3.0},{"c":1,"x":745,"y":2.6},{"c":1,"x":747.5,"y":-2.4},
{"c":1,"x":750,"y":2.2},{"c":1,"x":752.5,"y":-2.1},{"c":1,"x":755,"y":2.0},{"c":1,"x":757.5,"y":-2.1},{"c":1,"x":760,"y":2.2},{"c":1,"x":762.5,"y":-2.1},{"c":1,"x":765,"y":2.0},{"c":1,"x":767.5,"y":-1.9},{"c":1,"x":770,"y":1.8},{"c":1,"x":772.5,"y":-1.9},
{"c":1,"x":775,"y":2.0},{"c":1,"x":777.5,"y":-1.8},{"c":1,"x":780,"y":1.6},{"c":1,"x":782.5,"y":-1.4},{"c":1,"x":785,"y":1.2},{"c":1,"x":787.5,"y":-1.1},{"c":1,"x":790,"y":1.0},{"c":1,"x":792.5,"y":-1.1},{"c":1,"x":795,"y":1.2},{"c":1,"x":797.5,"y":-1.5},
{"c":1,"x":800,"y":1.8},{"c":1,"x":802.5,"y":-1.7},{"c":1,"x":805,"y":1.6},{"c":1,"x":807.5,"y":-1.3},{"c":1,"x":810,"y":1.0},{"c":1,"x":812.5,"y":-0.9},{"c":1,"x":815,"y":0.8},{"c":1,"x":817.5,"y":-0.9},{"c":1,"x":820,"y":0.9},{"c":1,"x":822.5,"y":-0.9},
{"c":1,"x":825,"y":0.8},{"c":1,"x":827.5,"y":-0.9},{"c":1,"x":830,"y":1.0},{"c":1,"x":832.5,"y":-1.0},{"c":1,"x":835,"y":0.9},{"c":1,"x":837.5,"y":-1.1},{"c":1,"x":840,"y":1.2},{"c":1,"x":842.5,"y":-1.4},{"c":1,"x":845,"y":1.6},{"c":1,"x":847.5,"y":-1.8},
{"c":1,"x":850,"y":2.0},{"c":1,"x":852.5,"y":-1.9},{"c":1,"x":855,"y":1.8},{"c":1,"x":857.5,"y":-1.5},{"c":1,"x":860,"y":1.2},{"c":1,"x":862.5,"y":-1.1},{"c":1,"x":865,"y":1.0},{"c":1,"x":867.5,"y":-1.1},{"c":1,"x":870,"y":1.2},{"c":1,"x":872.5,"y":-1.5},
{"c":1,"x":875,"y":1.8},{"c":1,"x":877.5,"y":-2.2},{"c":1,"x":880,"y":2.6},{"c":1,"x":882.5,"y":-2.8},{"c":1,"x":885,"y":3.0},{"c":1,"x":887.5,"y":-3.1},{"c":1,"x":890,"y":3.2},{"c":1,"x":892.5,"y":-3.1},{"c":1,"x":895,"y":3.0},{"c":1,"x":897.5,"y":-3.1},
{"c":1,"x":900,"y":3.2},{"c":1,"x":902.5,"y":-3.1},{"c":1,"x":905,"y":3.0},{"c":1,"x":907.5,"y":-2.9},{"c":1,"x":910,"y":2.8},{"c":1,"x":912.5,"y":-2.9},{"c":1,"x":915,"y":3.0},{"c":1,"x":917.5,"y":-3.1},{"c":1,"x":920,"y":3.2},{"c":1,"x":922.5,"y":-3.0},
{"c":1,"x":925,"y":2.8},{"c":1,"x":927.5,"y":-2.6},{"c":1,"x":930,"y":2.4},{"c":1,"x":932.5,"y":-2.3},{"c":1,"x":935,"y":2.2},{"c":1,"x":937.5,"y":-2.3},{"c":1,"x":940,"y":2.4},{"c":1,"x":942.5,"y":-2.5},{"c":1,"x":945,"y":2.6},{"c":1,"x":947.5,"y":-2.5},
{"c":1,"x":950,"y":2.4},{"c":1,"x":952.5,"y":-2.3},{"c":1,"x":955,"y":2.2},{"c":1,"x":957.5,"y":-2.4},{"c":1,"x":960,"y":2.6},{"c":1,"x":962.5,"y":-2.5},{"c":1,"x":965,"y":2.4},{"c":1,"x":967.5,"y":-2.3},{"c":1,"x":970,"y":2.2},{"c":1,"x":972.5,"y":-2.4},
{"c":1,"x":975,"y":2.6},{"c":1,"x":977.5,"y":-2.5},{"c":1,"x":980,"y":2.4},{"c":1,"x":982.5,"y":-2.3},{"c":1,"x":985,"y":2.2},{"c":1,"x":987.5,"y":-2.4},{"c":1,"x":990,"y":2.6},{"c":1,"x":992.5,"y":-3.1},{"c":1,"x":995,"y":3.6},{"c":1,"x":997.5,"y":-3.8},
{"c":1,"x":1000,"y":4.0},
{"c":2,"x":0,"y":0.8},{"c":2,"x":8,"y":-0.7},{"c":2,"x":16,"y":0.9},{"c":2,"x":24,"y":-0.7},{"c":2,"x":32,"y":0.8},{"c":2,"x":40,"y":-0.9},{"c":2,"x":48,"y":0.7},{"c":2,"x":56,"y":-1.0},{"c":2,"x":64,"y":1.2},{"c":2,"x":72,"y":-1.0},
{"c":2,"x":80,"y":1.4},{"c":2,"x":88,"y":-1.2},{"c":2,"x":96,"y":1.6},{"c":2,"x":104,"y":-3.2},{"c":2,"x":112,"y":3.6},{"c":2,"x":120,"y":-2.8},{"c":2,"x":128,"y":2.2},{"c":2,"x":136,"y":-2.4},{"c":2,"x":144,"y":2.0},{"c":2,"x":152,"y":-2.6},
{"c":2,"x":160,"y":2.2},{"c":2,"x":168,"y":-2.4},{"c":2,"x":176,"y":2.0},{"c":2,"x":184,"y":-1.8},{"c":2,"x":192,"y":1.6},{"c":2,"x":200,"y":-2.0},{"c":2,"x":208,"y":1.8},{"c":2,"x":216,"y":-1.4},{"c":2,"x":224,"y":1.2},{"c":2,"x":232,"y":-1.0},
{"c":2,"x":240,"y":1.2},{"c":2,"x":248,"y":-1.4},{"c":2,"x":256,"y":1.0},{"c":2,"x":264,"y":-1.2},{"c":2,"x":272,"y":2.0},{"c":2,"x":280,"y":-1.6},{"c":2,"x":288,"y":2.2},{"c":2,"x":296,"y":-2.8},{"c":2,"x":304,"y":2.4},{"c":2,"x":312,"y":-3.2},
{"c":2,"x":320,"y":2.6},{"c":2,"x":328,"y":-1.4},{"c":2,"x":336,"y":1.0},{"c":2,"x":344,"y":-1.2},{"c":2,"x":352,"y":0.9},{"c":2,"x":360,"y":-1.0},{"c":2,"x":368,"y":1.4},{"c":2,"x":376,"y":-1.2},{"c":2,"x":384,"y":2.6},{"c":2,"x":392,"y":-3.6},
{"c":2,"x":400,"y":2.4},{"c":2,"x":408,"y":-1.6},{"c":2,"x":416,"y":2.0},{"c":2,"x":424,"y":-2.4},{"c":2,"x":432,"y":2.0},{"c":2,"x":440,"y":-1.8},{"c":2,"x":448,"y":2.2},{"c":2,"x":456,"y":-1.8},{"c":2,"x":464,"y":2.2},{"c":2,"x":472,"y":-2.4},
{"c":2,"x":480,"y":2.0},{"c":2,"x":488,"y":-1.6},{"c":2,"x":496,"y":1.4},{"c":2,"x":504,"y":-1.2},{"c":2,"x":512,"y":1.4},{"c":2,"x":520,"y":-2.2},{"c":2,"x":528,"y":2.6},{"c":2,"x":536,"y":-2.0},{"c":2,"x":544,"y":1.2},{"c":2,"x":552,"y":-1.0},
{"c":2,"x":560,"y":1.4},{"c":2,"x":568,"y":-1.2},{"c":2,"x":576,"y":1.6},{"c":2,"x":584,"y":-2.0},{"c":2,"x":592,"y":2.4},{"c":2,"x":600,"y":-2.2},{"c":2,"x":608,"y":1.4},{"c":2,"x":616,"y":-0.9},{"c":2,"x":624,"y":0.8},{"c":2,"x":632,"y":-1.0},
{"c":2,"x":640,"y":0.9},{"c":2,"x":648,"y":-1.6},{"c":2,"x":656,"y":1.8},{"c":2,"x":664,"y":-1.6},{"c":2,"x":672,"y":1.4},{"c":2,"x":680,"y":-1.6},{"c":2,"x":688,"y":2.2},{"c":2,"x":696,"y":-1.6},{"c":2,"x":704,"y":1.4},{"c":2,"x":712,"y":-1.8},
{"c":2,"x":720,"y":2.6},{"c":2,"x":728,"y":-1.6},{"c":2,"x":736,"y":1.8},{"c":2,"x":744,"y":-2.8},{"c":2,"x":752,"y":2.2},{"c":2,"x":760,"y":-1.8},{"c":2,"x":768,"y":2.0},{"c":2,"x":776,"y":-1.6},{"c":2,"x":784,"y":1.4},{"c":2,"x":792,"y":-1.6},
{"c":2,"x":800,"y":1.8},{"c":2,"x":808,"y":-2.4},{"c":2,"x":816,"y":1.6},{"c":2,"x":824,"y":-1.0},{"c":2,"x":832,"y":0.8},{"c":2,"x":840,"y":-0.9},{"c":2,"x":848,"y":0.8},{"c":2,"x":856,"y":-1.0},{"c":2,"x":864,"y":0.9},{"c":2,"x":872,"y":-1.6},
{"c":2,"x":880,"y":2.2},{"c":2,"x":888,"y":-2.8},{"c":2,"x":896,"y":3.2},{"c":2,"x":904,"y":-2.4},{"c":2,"x":912,"y":2.0},{"c":2,"x":920,"y":-1.8},{"c":2,"x":928,"y":1.4},{"c":2,"x":936,"y":-1.6},{"c":2,"x":944,"y":1.2},{"c":2,"x":952,"y":-1.4},
{"c":2,"x":960,"y":1.6},{"c":2,"x":968,"y":-1.4},{"c":2,"x":976,"y":1.2},{"c":2,"x":984,"y":-1.4},{"c":2,"x":992,"y":1.0},{"c":2,"x":1000,"y":-0.8},
{"c":3,"x":0,"y":2.0},{"c":3,"x":10,"y":-2.6},{"c":3,"x":20,"y":2.4},{"c":3,"x":30,"y":-2.2},{"c":3,"x":40,"y":2.0},{"c":3,"x":50,"y":-1.8},{"c":3,"x":60,"y":1.6},{"c":3,"x":70,"y":-1.4},{"c":3,"x":80,"y":1.6},{"c":3,"x":90,"y":-1.2},
{"c":3,"x":100,"y":1.0},{"c":3,"x":110,"y":-0.9},{"c":3,"x":120,"y":1.0},{"c":3,"x":130,"y":-0.7},{"c":3,"x":140,"y":0.8},{"c":3,"x":150,"y":-0.6},{"c":3,"x":160,"y":0.8},{"c":3,"x":170,"y":-0.7},{"c":3,"x":180,"y":1.0},{"c":3,"x":190,"y":-0.9},
{"c":3,"x":200,"y":1.0},{"c":3,"x":210,"y":-1.2},{"c":3,"x":220,"y":1.4},{"c":3,"x":230,"y":-1.6},{"c":3,"x":240,"y":1.4},{"c":3,"x":250,"y":-1.6},{"c":3,"x":260,"y":1.2},{"c":3,"x":270,"y":-1.0},{"c":3,"x":280,"y":0.9},{"c":3,"x":290,"y":-1.0},
{"c":3,"x":300,"y":0.8},{"c":3,"x":310,"y":-1.6},{"c":3,"x":320,"y":2.4},{"c":3,"x":330,"y":-3.0},{"c":3,"x":340,"y":2.2},{"c":3,"x":350,"y":-1.6},{"c":3,"x":360,"y":1.4},{"c":3,"x":370,"y":-2.6},{"c":3,"x":380,"y":2.4},{"c":3,"x":390,"y":-1.4},
{"c":3,"x":400,"y":1.0},{"c":3,"x":410,"y":-0.8},{"c":3,"x":420,"y":0.9},{"c":3,"x":430,"y":-0.7},{"c":3,"x":440,"y":0.8},{"c":3,"x":450,"y":-0.9},{"c":3,"x":460,"y":0.8},{"c":3,"x":470,"y":-0.9},{"c":3,"x":480,"y":0.7},{"c":3,"x":490,"y":-1.0},
{"c":3,"x":500,"y":1.8},{"c":3,"x":510,"y":-2.6},{"c":3,"x":520,"y":3.6},{"c":3,"x":530,"y":-4.2},{"c":3,"x":540,"y":3.0},{"c":3,"x":550,"y":-1.2},{"c":3,"x":560,"y":0.8},{"c":3,"x":570,"y":-0.7},{"c":3,"x":580,"y":0.9},{"c":3,"x":590,"y":-1.6},
{"c":3,"x":600,"y":2.0},{"c":3,"x":610,"y":-2.2},{"c":3,"x":620,"y":1.8},{"c":3,"x":630,"y":-2.4},{"c":3,"x":640,"y":2.2},{"c":3,"x":650,"y":-2.0},{"c":3,"x":660,"y":1.6},{"c":3,"x":670,"y":-1.4},{"c":3,"x":680,"y":1.2},{"c":3,"x":690,"y":-0.8},
{"c":3,"x":700,"y":0.6},{"c":3,"x":710,"y":-0.7},{"c":3,"x":720,"y":0.9},{"c":3,"x":730,"y":-0.8},{"c":3,"x":740,"y":0.9},{"c":3,"x":750,"y":-0.6},{"c":3,"x":760,"y":1.0},{"c":3,"x":770,"y":-0.8},{"c":3,"x":780,"y":0.7},{"c":3,"x":790,"y":-0.9},
{"c":3,"x":800,"y":0.8},{"c":3,"x":810,"y":-1.0},{"c":3,"x":820,"y":0.9},{"c":3,"x":830,"y":-1.4},{"c":3,"x":840,"y":2.6},{"c":3,"x":850,"y":-2.8},{"c":3,"x":860,"y":2.0},{"c":3,"x":870,"y":-1.8},{"c":3,"x":880,"y":2.0},{"c":3,"x":890,"y":-2.2},
{"c":3,"x":900,"y":1.8},{"c":3,"x":910,"y":-2.0},{"c":3,"x":920,"y":1.6},{"c":3,"x":930,"y":-1.8},{"c":3,"x":940,"y":2.2},{"c":3,"x":950,"y":-1.8},{"c":3,"x":960,"y":1.6},{"c":3,"x":970,"y":-1.8},{"c":3,"x":980,"y":1.4},{"c":3,"x":990,"y":-1.2},
{"c":3,"x":1000,"y":0.8},
{"c":4,"x":0,"y":-0.6},{"c":4,"x":14,"y":0.6},{"c":4,"x":26,"y":-2.1},{"c":4,"x":38,"y":0.9},{"c":4,"x":50,"y":-1.3},{"c":4,"x":65,"y":0.1},{"c":4,"x":83,"y":-1.0},{"c":4,"x":101,"y":-2.8},{"c":4,"x":128,"y":2.8},{"c":4,"x":140,"y":-2.8},
{"c":4,"x":155,"y":0.1},{"c":4,"x":168,"y":-1.8},{"c":4,"x":180,"y":0.9},{"c":4,"x":192,"y":-1.8},{"c":4,"x":204,"y":1.2},{"c":4,"x":212,"y":-0.4},{"c":4,"x":222,"y":2.4},{"c":4,"x":231,"y":-2.1},{"c":4,"x":243,"y":0.6},{"c":4,"x":258,"y":-0.6},
{"c":4,"x":276,"y":0.3},{"c":4,"x":294,"y":-0.6},{"c":4,"x":306,"y":0.2},{"c":4,"x":321,"y":1.9},{"c":4,"x":330,"y":-2.8},{"c":4,"x":342,"y":0.9},{"c":4,"x":354,"y":-1.0},{"c":4,"x":367,"y":0.0},{"c":4,"x":385,"y":-0.8},{"c":4,"x":403,"y":0.2},
{"c":4,"x":421,"y":-0.6},{"c":4,"x":439,"y":0.3},{"c":4,"x":457,"y":-0.8},{"c":4,"x":475,"y":0.6},{"c":4,"x":487,"y":-1.3},{"c":4,"x":497,"y":1.2},{"c":4,"x":505,"y":-2.1},{"c":4,"x":517,"y":1.2},{"c":4,"x":529,"y":-0.6},{"c":4,"x":541,"y":1.6},
{"c":4,"x":556,"y":-0.3},{"c":4,"x":577,"y":2.4},{"c":4,"x":601,"y":-4.3},{"c":4,"x":617,"y":5.0},{"c":4,"x":635,"y":-5.0},{"c":4,"x":650,"y":5.0},{"c":4,"x":668,"y":-5.0},{"c":4,"x":683,"y":4.6},{"c":4,"x":704,"y":-3.5},{"c":4,"x":719,"y":2.4},
{"c":4,"x":740,"y":-2.1},{"c":4,"x":752,"y":2.4},{"c":4,"x":764,"y":-0.5},{"c":4,"x":776,"y":4.6},{"c":4,"x":794,"y":-5.0},{"c":4,"x":812,"y":5.0},{"c":4,"x":831,"y":-4.3},{"c":4,"x":846,"y":3.5},{"c":4,"x":858,"y":-1.3},{"c":4,"x":864,"y":-0.6},
{"c":4,"x":879,"y":3.1},{"c":4,"x":900,"y":-4.7},{"c":4,"x":912,"y":4.1},{"c":4,"x":933,"y":-2.1},{"c":4,"x":954,"y":1.6},{"c":4,"x":966,"y":-2.1},{"c":4,"x":990,"y":2.6},{"c":4,"x":1000,"y":-2.8},
{"c":5,"x":0,"y":3.1},{"c":5,"x":23,"y":-3.8},{"c":5,"x":47,"y":2.1},{"c":5,"x":65,"y":-2.4},{"c":5,"x":86,"y":1.2},{"c":5,"x":101,"y":-2.1},{"c":5,"x":122,"y":2.4},{"c":5,"x":143,"y":-3.5},{"c":5,"x":168,"y":3.8},{"c":5,"x":189,"y":-5.0},
{"c":5,"x":216,"y":5.0},{"c":5,"x":240,"y":-5.0},{"c":5,"x":267,"y":5.0},{"c":5,"x":285,"y":-5.0},{"c":5,"x":312,"y":4.1},{"c":5,"x":336,"y":-5.0},{"c":5,"x":360,"y":1.6},{"c":5,"x":378,"y":-2.1},{"c":5,"x":415,"y":1.6},{"c":5,"x":439,"y":-2.1},
{"c":5,"x":463,"y":0.4},{"c":5,"x":481,"y":-1.5},{"c":5,"x":499,"y":1.1},{"c":5,"x":523,"y":-2.3},{"c":5,"x":544,"y":3.0},{"c":5,"x":562,"y":-3.5},{"c":5,"x":583,"y":0.5},{"c":5,"x":608,"y":-0.8},{"c":5,"x":638,"y":-0.5},{"c":5,"x":674,"y":1.1},
{"c":5,"x":704,"y":-3.0},{"c":5,"x":728,"y":-0.5},{"c":5,"x":764,"y":-0.5},{"c":5,"x":794,"y":1.1},{"c":5,"x":825,"y":-3.8},{"c":5,"x":849,"y":3.0},{"c":5,"x":873,"y":-2.3},{"c":5,"x":885,"y":0.5},{"c":5,"x":909,"y":-1.0},{"c":5,"x":933,"y":0.0},
{"c":5,"x":957,"y":-1.5},{"c":5,"x":981,"y":1.1},{"c":5,"x":1000,"y":-2.0},
{"c":6,"x":0,"y":4.3},{"c":6,"x":26,"y":-4.3},{"c":6,"x":60,"y":0.2},{"c":6,"x":90,"y":0.7},{"c":6,"x":131,"y":0.8},{"c":6,"x":168,"y":-1.7},{"c":6,"x":206,"y":1.4},{"c":6,"x":236,"y":-1.7},{"c":6,"x":273,"y":5.0},{"c":6,"x":318,"y":-5.0},
{"c":6,"x":359,"y":3.6},{"c":6,"x":385,"y":0.3},{"c":6,"x":408,"y":1.7},{"c":6,"x":445,"y":0.0},{"c":6,"x":505,"y":0.0},{"c":6,"x":542,"y":3.1},{"c":6,"x":587,"y":-2.1},{"c":6,"x":640,"y":1.4},{"c":6,"x":669,"y":0.3},{"c":6,"x":692,"y":2.1},
{"c":6,"x":729,"y":-1.4},{"c":6,"x":782,"y":0.7},{"c":6,"x":838,"y":2.1},{"c":6,"x":879,"y":-2.9},{"c":6,"x":916,"y":2.1},{"c":6,"x":969,"y":2.1},{"c":6,"x":990,"y":0.5},{"c":6,"x":1000,"y":-4.5},
{"c":7,"x":0,"y":3.1},{"c":7,"x":60,"y":0.7},{"c":7,"x":100,"y":0.4},{"c":7,"x":130,"y":0.5},{"c":7,"x":161,"y":-1.7},{"c":7,"x":251,"y":5.0},{"c":7,"x":325,"y":-4.0},{"c":7,"x":408,"y":4.3},{"c":7,"x":482,"y":-0.3},{"c":7,"x":557,"y":2.1},
{"c":7,"x":632,"y":1.4},{"c":7,"x":699,"y":0.3},{"c":7,"x":782,"y":1.1},{"c":7,"x":856,"y":1.1},{"c":7,"x":939,"y":3.6},{"c":7,"x":980,"y":1.0},{"c":7,"x":1000,"y":-4.0},
{"c":8,"x":0,"y":5.0},{"c":8,"x":86,"y":-0.5},{"c":8,"x":198,"y":-1.8},{"c":8,"x":260,"y":-3.5},{"c":8,"x":320,"y":-5.0},{"c":8,"x":408,"y":-1.8},{"c":8,"x":540,"y":5.0},{"c":8,"x":700,"y":-0.1},{"c":8,"x":880,"y":3.9},{"c":8,"x":920,"y":3.6},
{"c":8,"x":1000,"y":-4.2},
{"c":9,"x":0,"y":4.6},{"c":9,"x":110,"y":2.3},{"c":9,"x":200,"y":0.9},{"c":9,"x":300,"y":0.2},{"c":9,"x":480,"y":0.5},{"c":9,"x":630,"y":0.9},{"c":9,"x":780,"y":-0.1},{"c":9,"x":890,"y":-1.8},{"c":9,"x":1000,"y":-5.0}
]
},
"vconcat": [
{
"data": {"name": "a"},
"title": {"text": "Number of points", "subtitle": "（a）IMF\u2002components\u2002at\u2002flow\u2002rate\u2002of\u20020. 5\u2002m·s⁻¹", "orient": "bottom", "anchor": "middle", "dx": 14, "font": "Liberation Serif", "fontSize": 18, "fontWeight": "normal", "color": "#222", "subtitleFont": "Liberation Serif", "subtitleFontSize": 19.5, "subtitleColor": "#222", "subtitlePadding": 9, "offset": 10},
"facet": {"row": {"field": "c", "type": "ordinal", "title": "Voltage/V",
 "header": {"labelExpr": "datum.value == 9 ? 'Res' : 'IMF' + datum.value", "labelAngle": -90, "labelOrient": "left", "titleOrient": "left", "labelFont": "Liberation Serif", "labelFontSize": 15, "labelColor": "#222", "labelPadding": -4, "titleFont": "Liberation Serif", "titleFontSize": 20, "titleFontWeight": "normal", "titleColor": "#222", "titlePadding": -4}}},
"spacing": {"row": 25.6},
"bounds": "flush",
"resolve": {"axis": {"x": "independent"}},
"spec": {
 "width": 553, "height": 24,
 "encoding": {
  "x": {"field": "x", "type": "quantitative", "scale": {"domain": [0, 1000], "nice": false},
   "axis": {"values": [0,100,200,300,400,500,600,700,800,900,1000], "labelExpr": "datum.value == 1000 ? '1 000' : datum.label", "title": null, "grid": false, "tickSize": -4, "tickColor": "#333", "tickWidth": 1.2, "domainColor": "#333", "domainWidth": 1.2, "labelPadding": 5, "labelFont": "Liberation Serif", "labelFontSize": 16, "labelColor": "#222", "labelFlush": false, "labelOverlap": false}},
  "y": {"field": "y", "type": "quantitative", "scale": {"domain": [-5, 5], "nice": false, "zero": false},
   "axis": {"title": null, "labels": false, "ticks": false, "grid": false, "domainColor": "#333", "domainWidth": 1.2}}
 },
 "layer": [
  {"mark": {"type": "line", "interpolate": "monotone", "color": "#35b6ec", "clip": true},
   "encoding": {"strokeWidth": {"field": "c", "type": "quantitative", "scale": {"domain": [1, 2, 3], "range": [2.2, 2.0, 1.8], "clamp": true}, "legend": null}}},
  {"mark": {"type": "line", "interpolate": "monotone", "color": "#2b5ea8", "clip": true},
   "encoding": {"strokeWidth": {"field": "c", "type": "quantitative", "scale": {"domain": [1, 2, 3], "range": [1.1, 0.9, 0.8], "clamp": true}, "legend": null}}}
 ]
}
},
{
"data": {"name": "b"},
"title": {"text": "Number of points", "subtitle": "（b）IMF\u2002components\u2002at\u2002flow\u2002rate\u2002of\u20020. 3\u2002m·s⁻¹", "orient": "bottom", "anchor": "middle", "dx": 14, "font": "Liberation Serif", "fontSize": 18, "fontWeight": "normal", "color": "#222", "subtitleFont": "Liberation Serif", "subtitleFontSize": 19.5, "subtitleColor": "#222", "subtitlePadding": 8, "offset": 14},
"facet": {"row": {"field": "c", "type": "ordinal", "title": "Voltage/V",
 "header": {"labelExpr": "datum.value == 9 ? 'Res' : 'IMF' + datum.value", "labelAngle": -90, "labelOrient": "left", "titleOrient": "left", "labelFont": "Liberation Serif", "labelFontSize": 15, "labelColor": "#222", "labelPadding": -4, "titleFont": "Liberation Serif", "titleFontSize": 20, "titleFontWeight": "normal", "titleColor": "#222", "titlePadding": -4}}},
"spacing": {"row": 26.8},
"bounds": "flush",
"resolve": {"axis": {"x": "independent"}},
"spec": {
 "width": 553, "height": 24,
 "encoding": {
  "x": {"field": "x", "type": "quantitative", "scale": {"domain": [0, 1000], "nice": false},
   "axis": {"values": [0,100,200,300,400,500,600,700,800,900,1000], "labelExpr": "datum.value == 1000 ? '1 000' : datum.label", "title": null, "grid": false, "tickSize": -4, "tickColor": "#333", "tickWidth": 1.2, "domainColor": "#333", "domainWidth": 1.2, "labelPadding": 5, "labelFont": "Liberation Serif", "labelFontSize": 16, "labelColor": "#222", "labelFlush": false, "labelOverlap": false}},
  "y": {"field": "y", "type": "quantitative", "scale": {"domain": [-5, 5], "nice": false, "zero": false},
   "axis": {"title": null, "labels": false, "ticks": false, "grid": false, "domainColor": "#333", "domainWidth": 1.2}}
 },
 "layer": [
  {"mark": {"type": "line", "interpolate": "monotone", "color": "#35b6ec", "clip": true},
   "encoding": {"strokeWidth": {"field": "c", "type": "quantitative", "scale": {"domain": [1, 2, 3], "range": [2.2, 2.0, 1.8], "clamp": true}, "legend": null}}},
  {"mark": {"type": "line", "interpolate": "monotone", "color": "#2b5ea8", "clip": true},
   "encoding": {"strokeWidth": {"field": "c", "type": "quantitative", "scale": {"domain": [1, 2, 3], "range": [1.1, 0.9, 0.8], "clamp": true}, "legend": null}}}
 ]
}
}
]
}
